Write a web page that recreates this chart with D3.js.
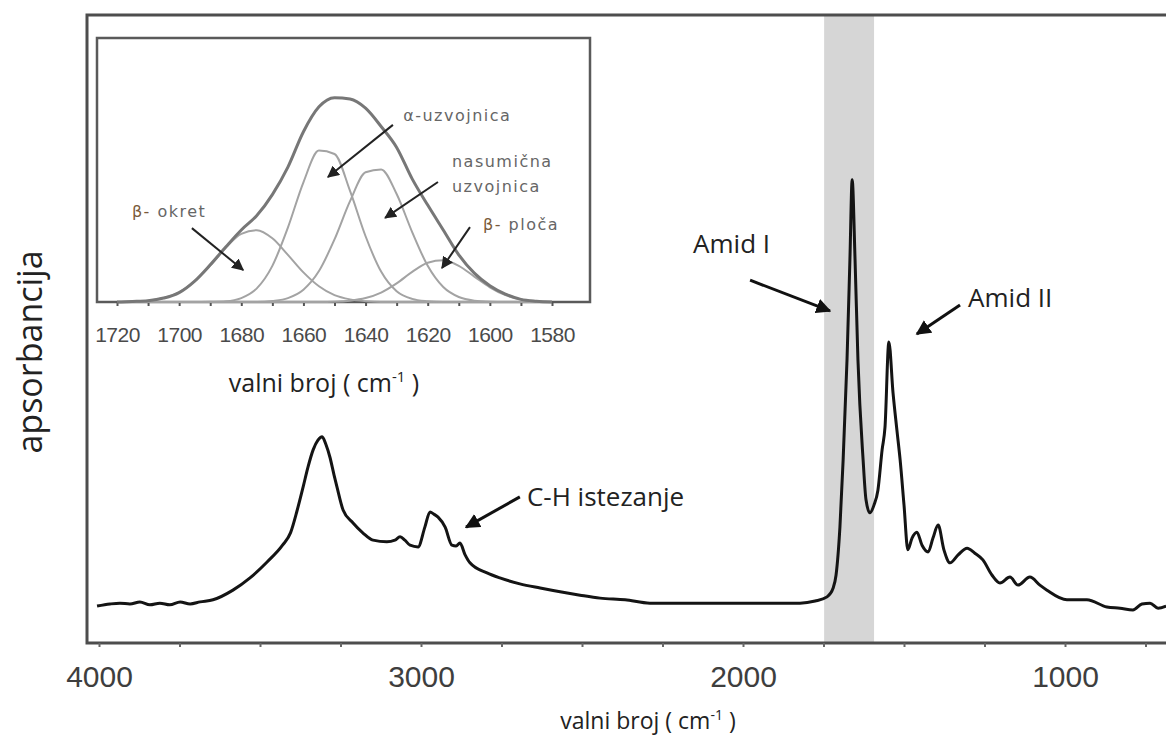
<!DOCTYPE html>
<html lang="hr">
<head>
  <meta charset="UTF-8">
  <title>FTIR spektar – Amid I / Amid II</title>
  <script src="https://d3js.org/d3.v7.min.js"></script>
  <style>
    body {
      margin: 0;
      overflow: hidden;
      background: #fff;
    }
    svg { display: block; }
    .tick-main text {
      font-family: "Liberation Sans", Arial, sans-serif;
      font-size: 30px;
      fill: #3e3e3e;
    }
    .tick-inset text {
      font-family: "Liberation Sans", Arial, sans-serif;
      font-size: 21px;
      fill: #4a4a4a;
      letter-spacing: -0.5px;
    }
    .title {
      font-family: "Open Sans", sans-serif;
      fill: #222;
    }
    .note {
      font-family: "Open Sans", sans-serif;
      font-size: 26px;
      fill: #222;
    }
    .inote {
      font-family: "DejaVu Sans", sans-serif;
      font-size: 16px;
      letter-spacing: 1.5px;
      fill: #666;
    }
  </style>
</head>
<body>
<svg width="1166" height="747"></svg>
<script>
  // main spectrum (wavenumber cm-1, absorbance a.u.)
  const mainWave = [4006, 3966, 3935, 3904, 3873, 3842, 3811, 3780, 3748, 3717, 3686,
    3646, 3584, 3531, 3478, 3430, 3405, 3385, 3366, 3351, 3335, 3320, 3307, 3295, 3283,
    3270, 3261, 3242, 3211, 3180, 3149, 3106, 3081, 3065, 3050, 3034, 3009, 2988, 2972,
    2960, 2947, 2925, 2904, 2891, 2879, 2863, 2848, 2795, 2755, 2693, 2630, 2568, 2506,
    2444, 2366, 2289, 2134, 1978, 1823, 1776, 1739, 1720, 1711, 1699, 1689, 1677, 1668,
    1661, 1652, 1643, 1627, 1618, 1606, 1593, 1581, 1568, 1559, 1547, 1534, 1522, 1512,
    1500, 1488, 1475, 1460, 1444, 1425, 1410, 1394, 1376, 1357, 1332, 1304, 1280, 1255,
    1227, 1202, 1171, 1146, 1109, 1078, 1056, 994, 932, 870, 829, 789, 761, 736, 711, 686];
  const mainAbs = [-0.005, 0, 0.002, 0, 0.005, -0.002, 0.002, -0.002, 0.005, 0, 0.005,
    0.01, 0.033, 0.062, 0.1, 0.14, 0.17, 0.222, 0.279, 0.326, 0.367, 0.39, 0.398, 0.379, 0.35,
    0.307, 0.279, 0.224, 0.193, 0.169, 0.152, 0.148, 0.152, 0.16, 0.152, 0.14, 0.136, 0.183, 0.219,
    0.214, 0.207, 0.183, 0.14, 0.138, 0.145, 0.117, 0.098, 0.074, 0.062, 0.048, 0.038, 0.029, 0.021,
    0.014, 0.01, 0.002, 0.002, 0.002, 0.002, 0.007, 0.017, 0.038, 0.069, 0.183, 0.343, 0.581, 0.819,
    1.01, 0.819, 0.581, 0.343, 0.248, 0.217, 0.236, 0.271, 0.367, 0.421, 0.624, 0.502, 0.414, 0.343,
    0.236, 0.129, 0.157, 0.171, 0.14, 0.124, 0.157, 0.188, 0.129, 0.098, 0.117, 0.133, 0.121, 0.105,
    0.069, 0.05, 0.064, 0.045, 0.064, 0.045, 0.033, 0.01, 0.01, -0.007, -0.01, -0.014, 0, 0.002, -0.01, -0.005];

  const mainTicks = [4000, 3750, 3500, 3250, 3000, 2750, 2500, 2250, 2000, 1750, 1500, 1250, 1000, 750];
  const amideBand = [1748, 1593];

  // inset: amide I band deconvolution
  const insetWave = [1720, 1715, 1710, 1705, 1700, 1695, 1690, 1685, 1680, 1675, 1670, 1665, 1660, 1655,
    1650, 1645, 1640, 1635, 1630, 1625, 1620, 1615, 1610, 1605, 1600, 1595, 1590, 1585, 1580];
  const envelope = [0, 0.002, 0.005, 0.015, 0.036, 0.08, 0.142, 0.21, 0.275, 0.33, 0.41, 0.515, 0.65, 0.745,
    0.78, 0.775, 0.74, 0.67, 0.59, 0.47, 0.37, 0.275, 0.18, 0.11, 0.062, 0.03, 0.01, 0.003, 0];
  const betaTurn = [0, 0.002, 0.005, 0.015, 0.037, 0.079, 0.139, 0.207, 0.26, 0.274, 0.243, 0.18, 0.113, 0.06,
    0.026, 0.01, 0.003, 0, 0, 0, 0, 0, 0, 0, 0, 0, 0, 0, 0];
  const alphaHelix = [0, 0, 0, 0, 0, 0, 0.001, 0.003, 0.015, 0.052, 0.138, 0.284, 0.457, 0.578,
    0.565, 0.424, 0.251, 0.116, 0.041, 0.012, 0.003, 0, 0, 0, 0, 0, 0, 0, 0];
  const randomCoil = [0, 0, 0, 0, 0, 0, 0, 0, 0, 0, 0.004, 0.015, 0.047, 0.118,
    0.239, 0.385, 0.495, 0.506, 0.412, 0.267, 0.138, 0.057, 0.019, 0.005, 0.001, 0, 0, 0, 0];
  const betaSheet = [0, 0, 0, 0, 0, 0, 0, 0, 0, 0, 0, 0, 0, 0,
    0.001, 0.005, 0.015, 0.036, 0.071, 0.115, 0.15, 0.159, 0.138, 0.097, 0.056, 0.026, 0.01, 0.003, 0];
  const insetTicks = [1720, 1710, 1700, 1690, 1680, 1670, 1660, 1650, 1640, 1630, 1620, 1610, 1600, 1590, 1580];

  const svg = d3.select("svg");

  // scales
  const x = d3.scaleLinear().domain([4000, 1000]).range([99, 1065]);
  const y = d3.scaleLinear().domain([0, 1]).range([604, 184]);
  const ix = d3.scaleLinear().domain([1720, 1580]).range([117, 552]);
  const iy = d3.scaleLinear().domain([0, 1]).range([302, 40]);

  const plot = { left: 87, top: 15, bottom: 643 };

  const defs = svg.append("defs");
  function marker(id, size, fill) {
    defs.append("marker")
      .attr("id", id)
      .attr("viewBox", "0 -5 10 10")
      .attr("refX", 9)
      .attr("refY", 0)
      .attr("markerUnits", "userSpaceOnUse")
      .attr("markerWidth", size)
      .attr("markerHeight", size)
      .attr("orient", "auto")
      .append("path")
      .attr("d", "M0,-5L10,0L0,5Z")
      .attr("fill", fill);
  }
  marker("arrow", 15, "#111");
  marker("arrowSmall", 12, "#222");

  // amide I band
  svg.append("rect")
    .attr("x", x(amideBand[0]))
    .attr("y", plot.top)
    .attr("width", x(amideBand[1]) - x(amideBand[0]))
    .attr("height", plot.bottom - plot.top)
    .attr("fill", "#d6d6d6");

  // frame
  svg.append("path")
    .attr("d", `M1175,${plot.top}H${plot.left}V${plot.bottom}H1175`)
    .attr("fill", "none")
    .attr("stroke", "#4d4d4d")
    .attr("stroke-width", 3);

  // x axis
  const xAxis = svg.append("g")
    .attr("class", "tick-main")
    .attr("transform", `translate(0,${plot.bottom})`)
    .call(d3.axisBottom(x)
      .tickValues(mainTicks)
      .tickSize(4)
      .tickPadding(19)
      .tickFormat(d => d % 1000 === 0 ? d : ""));
  xAxis.select(".domain").remove();
  xAxis.selectAll(".tick line").attr("stroke", "#666").attr("stroke-width", 2);
  xAxis.selectAll(".tick text").attr("dy", "0.71em");

  // spectrum
  const line = d3.line()
    .x((d, i) => x(mainWave[i]))
    .y(d => y(d))
    .curve(d3.curveMonotoneX);
  svg.append("path")
    .datum(mainAbs)
    .attr("d", line)
    .attr("fill", "none")
    .attr("stroke", "#141414")
    .attr("stroke-width", 3)
    .attr("stroke-linejoin", "round");

  // annotations on main plot
  const mainNotes = [
    { text: "Amid I", at: [2155, 0.835], from: [1978, 0.771], to: [1730, 0.698] },
    { text: "Amid II", at: [1301, 0.707], from: [1326, 0.712], to: [1460, 0.643] },
    { text: "C-H istezanje", at: [2671, 0.233], from: [2693, 0.255], to: [2860, 0.183] }
  ];
  mainNotes.forEach(n => {
    svg.append("text")
      .attr("class", "note")
      .attr("x", x(n.at[0]))
      .attr("y", y(n.at[1]))
      .text(n.text);
  });
  mainNotes.forEach(n => {
    svg.append("line")
      .attr("x1", x(n.from[0])).attr("y1", y(n.from[1]))
      .attr("x2", x(n.to[0])).attr("y2", y(n.to[1]))
      .attr("stroke", "#111")
      .attr("stroke-width", 3)
      .attr("marker-end", "url(#arrow)");
  });

  // axis titles
  const xt = svg.append("text")
    .attr("class", "title")
    .attr("x", 648)
    .attr("y", 729)
    .attr("text-anchor", "middle")
    .attr("font-size", 23);
  xt.append("tspan").text("valni broj ( cm");
  xt.append("tspan").attr("font-size", 14).attr("dy", -9).text("-1");
  xt.append("tspan").attr("dy", 9).text(" )");

  svg.append("text")
    .attr("class", "title")
    .attr("transform", "translate(42,352) rotate(-90)")
    .attr("text-anchor", "middle")
    .attr("font-size", 34)
    .text("apsorbancija");

  // ---- inset ----
  const inset = svg.append("g");
  inset.append("rect")
    .attr("x", 97).attr("y", 38)
    .attr("width", 590 - 97).attr("height", 302 - 38)
    .attr("fill", "#fff")
    .attr("stroke", "#5a5a5a")
    .attr("stroke-width", 2.5);

  const iAxis = inset.append("g")
    .attr("class", "tick-inset")
    .attr("transform", "translate(0,302)")
    .call(d3.axisBottom(ix)
      .tickValues(insetTicks)
      .tickSize(4)
      .tickPadding(21)
      .tickFormat(d => d % 20 === 0 ? d : ""));
  iAxis.select(".domain").remove();
  iAxis.selectAll(".tick line").attr("stroke", "#555").attr("stroke-width", 2);
  iAxis.selectAll(".tick text").attr("dy", "0.71em");

  const iline = vals => d3.line()
    .x((d, i) => ix(insetWave[i]))
    .y(d => iy(d))
    .curve(d3.curveMonotoneX)(vals);

  [betaTurn, alphaHelix, randomCoil, betaSheet].forEach(vals => {
    inset.append("path")
      .attr("d", iline(vals))
      .attr("fill", "none")
      .attr("stroke", "#a3a3a3")
      .attr("stroke-width", 2);
  });
  inset.append("path")
    .attr("d", iline(envelope))
    .attr("fill", "none")
    .attr("stroke", "#777")
    .attr("stroke-width", 3);

  const insetNotes = [
    { lines: ["α-uzvojnica"], at: [1627.9, 0.691], from: [1631.2, 0.676], to: [1652.1, 0.477] },
    { lines: ["nasumična", "uzvojnica"], at: [1612.2, 0.515], from: [1616.7, 0.458], to: [1633.7, 0.321] },
    { lines: ["β- okret"], at: [1715.2, 0.324], from: [1695.9, 0.282], to: [1679.4, 0.122] },
    { lines: ["β- ploča"], at: [1602.2, 0.275], from: [1606.4, 0.286], to: [1615.4, 0.13] }
  ];
  insetNotes.forEach(n => {
    n.lines.forEach((t, k) => {
      const txt = inset.append("text")
        .attr("class", "inote")
        .attr("x", ix(n.at[0]))
        .attr("y", iy(n.at[1]) + k * 25);
      if (t.startsWith("β")) {
        txt.append("tspan").attr("fill", "#7a5a3a").text("β-");
        txt.append("tspan").text(t.slice(2));
      } else {
        txt.text(t);
      }
    });
    inset.append("line")
      .attr("x1", ix(n.from[0])).attr("y1", iy(n.from[1]))
      .attr("x2", ix(n.to[0])).attr("y2", iy(n.to[1]))
      .attr("stroke", "#222")
      .attr("stroke-width", 2)
      .attr("marker-end", "url(#arrowSmall)");
  });

  const it = inset.append("text")
    .attr("class", "title")
    .attr("x", 324)
    .attr("y", 392)
    .attr("text-anchor", "middle")
    .attr("font-size", 25);
  it.append("tspan").text("valni broj ( cm");
  it.append("tspan").attr("font-size", 15).attr("dy", -10).text("-1");
  it.append("tspan").attr("dy", 10).text(" )");
</script>
</body>
</html>
